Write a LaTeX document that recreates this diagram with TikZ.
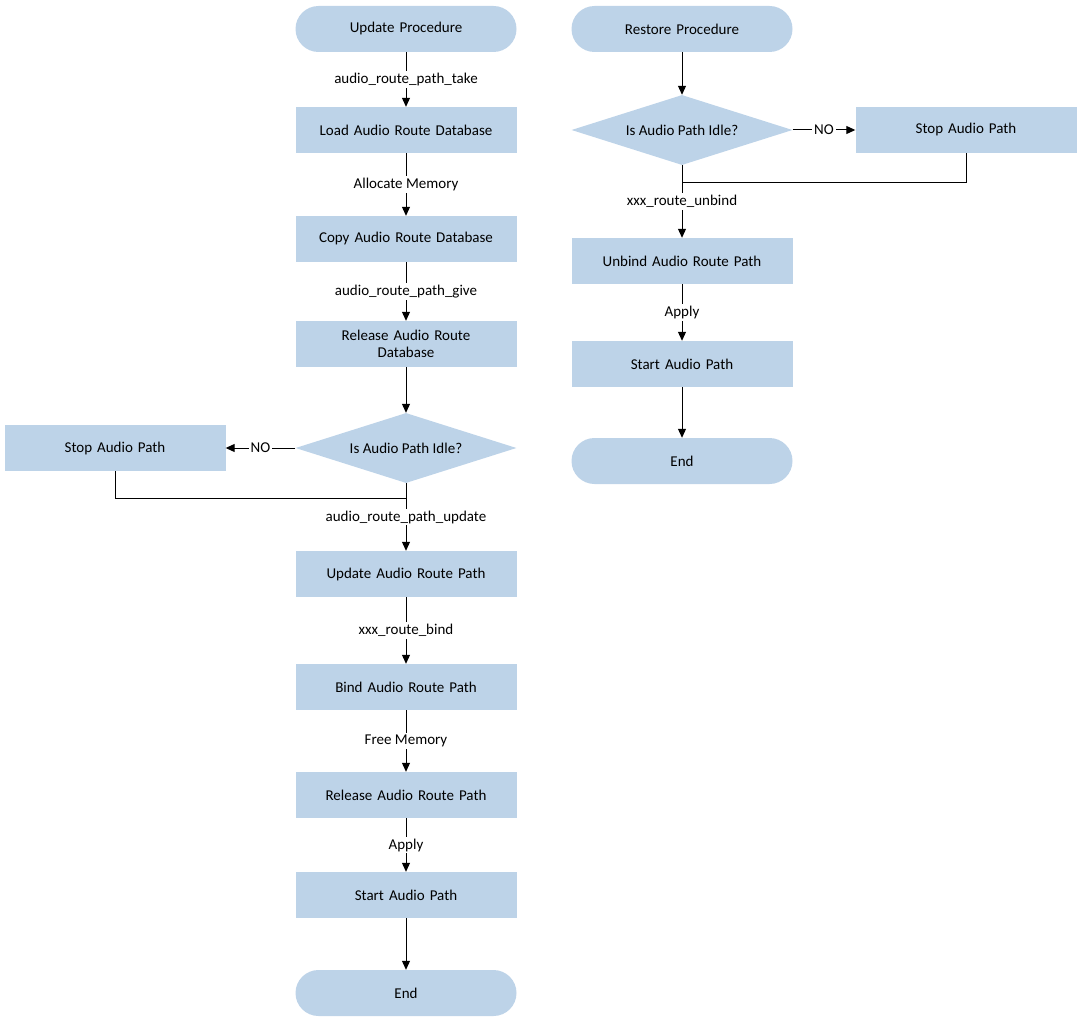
\documentclass[tikz,border=0pt]{standalone}
\usepackage{fontspec}
\setmainfont{Carlito}
\usetikzlibrary{shapes.geometric,arrows.meta}
\definecolor{fb}{HTML}{BDD3E8}
\begin{document}
\begin{tikzpicture}[x=1pt,y=-1pt,
 box/.style={fill=fb,draw=none,minimum width=221pt,minimum height=46pt,align=center,font=\fontsize{15}{17}\selectfont,text width=200pt},
 term/.style={box,rounded corners=23pt},
 dia/.style={diamond,fill=fb,draw=none,aspect=3.15,minimum width=221pt,minimum height=70pt,inner sep=0pt,font=\fontsize{15}{17}\selectfont},
 lab/.style={fill=white,font=\fontsize{15}{17}\selectfont,inner sep=2pt},
 ar/.style={-{Triangle[length=9pt,width=8pt]},line width=1pt},
 ln/.style={line width=1pt}]
\useasboundingbox (0,0) rectangle (1090,1030);
\node[term] (up) at (406,29) {Update Procedure};
\node[box] (load) at (406,130) {Load Audio Route Database};
\node[box] (copy) at (406,239) {Copy Audio Route Database};
\node[box] (rel) at (406,344) {Release Audio Route\\Database};
\node[dia] (d1) at (406,448) {Is Audio Path Idle?};
\node[box] (s1) at (115,448) {Stop Audio Path};
\node[box] (uarp) at (406,574) {Update Audio Route Path};
\node[box] (bind) at (406,687) {Bind Audio Route Path};
\node[box] (rarp) at (406,795) {Release Audio Route Path};
\node[box] (st1) at (406,895) {Start Audio Path};
\node[term] (e1) at (406,993) {End};
\node[term] (rp) at (682,29) {Restore Procedure};
\node[dia] (d2) at (682,130) {Is Audio Path Idle?};
\node[box] (s2) at (966,130) {Stop Audio Path};
\node[box] (unb) at (682,261) {Unbind Audio Route Path};
\node[box] (st2) at (682,364) {Start Audio Path};
\node[term] (e2) at (682,461) {End};
\draw[ar] (up) -- node[lab]{audio\_route\_path\_take} (load);
\draw[ar] (load) -- node[lab]{Allocate Memory} (copy);
\draw[ar] (copy) -- node[lab]{audio\_route\_path\_give} (rel);
\draw[ar] (rel) -- (d1);
\draw[ar] (d1) -- node[lab]{NO} (s1);
\coordinate (m1) at (406,498);
\draw[ln] (s1.south) -- (115,498) -- (m1);
\draw[ar] (d1.south) -- node[lab,pos=0.5]{audio\_route\_path\_update} (uarp);
\draw[ar] (uarp) -- node[lab]{xxx\_route\_bind} (bind);
\draw[ar] (bind) -- node[lab]{Free Memory} (rarp);
\draw[ar] (rarp) -- node[lab]{Apply} (st1);
\draw[ar] (st1) -- (e1);
\draw[ar] (rp) -- (d2);
\draw[ar] (d2) -- node[lab]{NO} (s2);
\coordinate (m2) at (682,183);
\draw[ln] (s2.south) -- (966,183) -- (m2);
\draw[ar] (d2.south) -- node[lab,pos=0.5]{xxx\_route\_unbind} (unb);
\draw[ar] (unb) -- node[lab]{Apply} (st2);
\draw[ar] (st2) -- (e2);
\end{tikzpicture}
\end{document}
